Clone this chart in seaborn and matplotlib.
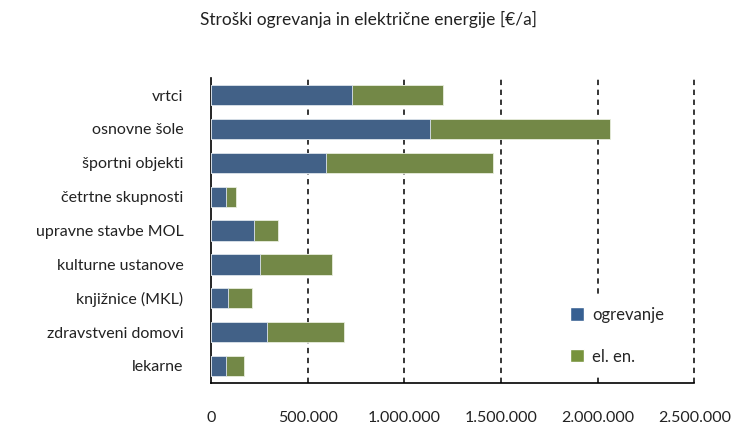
import pandas as pd
import seaborn as sns
import matplotlib.pyplot as plt
from matplotlib.patches import Patch
from matplotlib.ticker import FuncFormatter

# podatki (odčitani s slike), €/a
kategorije = ["vrtci", "osnovne šole", "športni objekti", "četrtne skupnosti",
              "upravne stavbe MOL", "kulturne ustanove", "knjižnice (MKL)",
              "zdravstveni domovi", "lekarne"]
ogrevanje = [731000, 1132000, 596000, 78000, 221000, 255000, 90000, 288000, 79000]
el_en = [469000, 932000, 862000, 52000, 124000, 372000, 122000, 397000, 92000]

df = pd.DataFrame({"kategorija": kategorije, "ogrevanje": ogrevanje, "el_en": el_en})
df["skupaj"] = df["ogrevanje"] + df["el_en"]

modra = "#376092"
zelena = "#77933c"

sns.set_style("white")
plt.rcParams["font.family"] = ["Lato", "DejaVu Sans"]

fig = plt.figure(figsize=(7.38, 4.25), dpi=100)
ax = fig.add_axes([0.286, 0.099, 0.655, 0.717])

# zložen stolpec: najprej skupaj (zelena), nato ogrevanje (modra)
sns.barplot(data=df, y="kategorija", x="skupaj", color=zelena, orient="h",
            width=0.6, edgecolor="#e8eedd", linewidth=0.6, ax=ax, zorder=3)
sns.barplot(data=df, y="kategorija", x="ogrevanje", color=modra, orient="h",
            width=0.6, edgecolor="#dfe6f0", linewidth=0.6, ax=ax, zorder=4)

ax.set_xlim(0, 2500000)
ax.set_ylim(len(kategorije) - 0.5, -0.5)
ax.set_xticks([0, 500000, 1000000, 1500000, 2000000, 2500000])
ax.xaxis.set_major_formatter(FuncFormatter(lambda v, p: f"{v:,.0f}".replace(",", ".")))
ax.set_xlabel("")
ax.set_ylabel("")

# črtkane mrežne črte
for v in [500000, 1000000, 1500000, 2000000, 2500000]:
    ax.axvline(v, color="black", linestyle=(0, (3.5, 3)), linewidth=1.1,
               zorder=1, clip_on=False)

for s in ["top", "right"]:
    ax.spines[s].set_visible(False)
for s in ["left", "bottom"]:
    ax.spines[s].set_color("black")
    ax.spines[s].set_linewidth(1.2)

ax.tick_params(axis="y", length=0, pad=20, labelsize=11.5, labelcolor="#222222")
ax.tick_params(axis="x", length=0, pad=20, labelsize=11.5, labelcolor="#222222")

fig.suptitle("Stroški ogrevanja in električne energije [€/a]", x=0.5, y=0.975,
             fontsize=12.5, color="#222222")

handles = [Patch(facecolor=modra, label="ogrevanje"),
           Patch(facecolor=zelena, label="el. en.")]
leg = ax.legend(handles=handles, loc="center left", bbox_to_anchor=(0.705, 0.155),
                frameon=True, facecolor="white", edgecolor="none", framealpha=1,
                fancybox=False, borderpad=0.6, handlelength=0.85, handleheight=0.85,
                handletextpad=0.45, labelspacing=1.55, fontsize=12)
leg.set_zorder(5)

plt.savefig("out.png", dpi=100)
plt.close()
